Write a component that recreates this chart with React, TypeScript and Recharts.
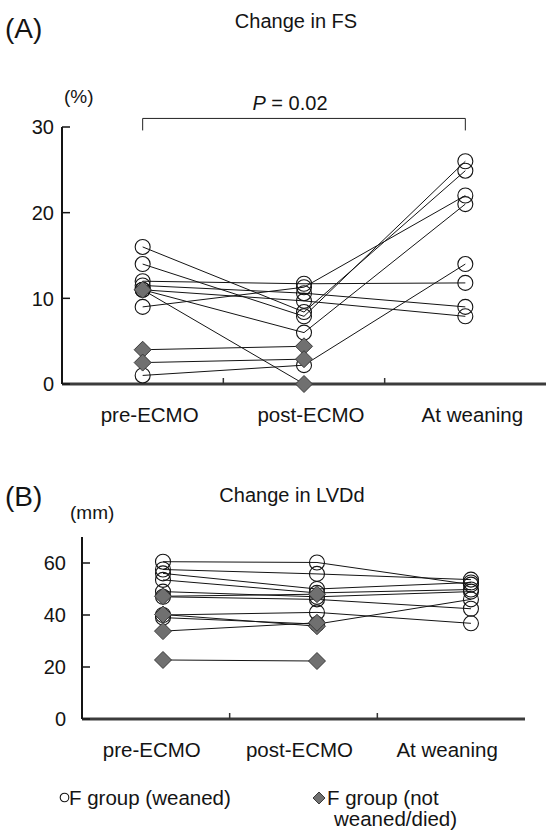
import React from "react";
import { LineChart, Line, XAxis, YAxis, ReferenceLine } from "recharts";

const CATEGORIES = ["pre-ECMO", "post-ECMO", "At weaning"];

// (A) fractional shortening, %
const FS_TICKS = [0, 10, 20, 30];
const FS_WEANED_PRE = [16, 14, 12, 11.5, 11, 11, 9, 1];
const FS_WEANED_POST = [8.4, 7.9, 11.7, 10.6, 9.7, 6.0, 11.3, 2.2];
const FS_WEANED_WEAN = [24.9, 26, 11.8, 9, 7.9, 21, 22, 14];
const FS_DIED_PRE = [11, 4, 2.5];
const FS_DIED_POST = [0, 4.4, 2.9];

// (B) LV end-diastolic dimension, mm
const LV_TICKS = [0, 20, 40, 60];
const LV_WEANED_PRE = [60.5, 57.5, 56, 53.5, 49, 47, 40, 39];
const LV_WEANED_POST = [60.2, 55.8, 50, 48.5, 47, 46, 41, 36.5];
const LV_WEANED_WEAN = [51.7, 53.6, 52.5, 49.8, 49, 42.4, 36.8, 46];
const LV_DIED_PRE = [47.2, 40.2, 33.8, 22.7];
const LV_DIED_POST = [48, 35.7, 37, 22.3];

const SLOTS = [0.5, 1.5, 2.5]; // centre of each category band
const CAT_TICKS = [0, 0.5, 1, 1.5, 2, 2.5, 3];

const FONT = '"Liberation Sans", Arial, sans-serif';
const INK = "#141414";

function buildRows(weaned: number[][], died: number[][]) {
  return SLOTS.map((x, i) => {
    const row: Record<string, number> = { x };
    if (weaned[i]) weaned[i].forEach((v, k) => (row[`w${k}`] = v));
    if (died[i]) died[i].forEach((v, k) => (row[`d${k}`] = v));
    return row;
  });
}

const fsRows = buildRows(
  [FS_WEANED_PRE, FS_WEANED_POST, FS_WEANED_WEAN],
  [FS_DIED_PRE, FS_DIED_POST]
);
const lvRows = buildRows(
  [LV_WEANED_PRE, LV_WEANED_POST, LV_WEANED_WEAN],
  [LV_DIED_PRE, LV_DIED_POST]
);

const CircleDot = (p: any) => {
  if (p.cx == null || p.cy == null || p.value == null) return <g key={`c-${p.index}`} />;
  return (
    <circle key={`c-${p.index}`} cx={p.cx} cy={p.cy} r={7.5} fill="none" stroke={INK} strokeWidth={1.1} />
  );
};

const DiamondDot = (p: any) => {
  if (p.cx == null || p.cy == null || p.value == null) return <g key={`d-${p.index}`} />;
  const s = 8.5;
  return (
    <path
      key={`d-${p.index}`}
      d={`M${p.cx},${p.cy - s}L${p.cx + s},${p.cy}L${p.cx},${p.cy + s}L${p.cx - s},${p.cy}Z`}
      fill="#707070"
      stroke="#3a3a3a"
      strokeWidth={1}
    />
  );
};

const makeXTick = (labelDx: number) => (props: any) => {
  const { x, y, payload } = props;
  const v = payload.value;
  if (Number.isInteger(v)) {
    if (v === 0 || v === 3) return <g />;
    return <line x1={x} y1={y} x2={x} y2={y - 6} stroke="#333" strokeWidth={1.5} />;
  }
  return (
    <text x={x + labelDx} y={y + 38} textAnchor="middle" fontSize={20.5} fill={INK} fontFamily={FONT}>
      {CATEGORIES[Math.floor(v)]}
    </text>
  );
};

const makeYTick = (gap: number) => (props: any) => {
  const { x, y, payload } = props;
  return (
    <g>
      <line x1={x} y1={y} x2={x + 8} y2={y} stroke={INK} strokeWidth={1.5} />
      <text x={x - gap} y={y} dy="0.36em" textAnchor="end" fontSize={20} fill={INK} fontFamily={FONT}>
        {payload.value}
      </text>
    </g>
  );
};

interface PanelProps {
  rows: Record<string, number>[];
  weanedCount: number;
  diedCount: number;
  yDomain: [number, number];
  yTicks: number[];
  height: number;
  margin: { top: number; right: number; bottom: number; left: number };
  yAxisWidth: number;
  pointDomain: [number, number];
  labelDx: number;
  yGap: number;
  children?: React.ReactNode;
}

const Panel = (p: PanelProps) => (
  <LineChart width={548} height={p.height} data={p.rows} margin={p.margin}>
    <XAxis
      xAxisId="cat"
      dataKey="x"
      type="number"
      domain={[0, 3]}
      ticks={CAT_TICKS}
      interval={0}
      height={40}
      tickLine={false}
      tickSize={0}
      tickMargin={0}
      axisLine={{ stroke: "#3c3c3c", strokeWidth: 3 }}
      tick={makeXTick(p.labelDx)}
    />
    <XAxis xAxisId="pts" dataKey="x" type="number" domain={p.pointDomain} allowDataOverflow hide />
    <YAxis
      type="number"
      domain={p.yDomain}
      ticks={p.yTicks}
      interval={0}
      width={p.yAxisWidth}
      tickLine={false}
      tickSize={0}
      tickMargin={0}
      axisLine={{ stroke: INK, strokeWidth: 2 }}
      tick={makeYTick(p.yGap)}
    />
    {p.children}
    {Array.from({ length: p.weanedCount }, (_, k) => (
      <Line
        key={`w${k}`}
        xAxisId="pts"
        type="linear"
        dataKey={`w${k}`}
        stroke={INK}
        strokeWidth={1}
        dot={CircleDot}
        activeDot={false}
        isAnimationActive={false}
      />
    ))}
    {Array.from({ length: p.diedCount }, (_, k) => (
      <Line
        key={`d${k}`}
        xAxisId="pts"
        type="linear"
        dataKey={`d${k}`}
        stroke={INK}
        strokeWidth={1}
        dot={DiamondDot}
        activeDot={false}
        isAnimationActive={false}
      />
    ))}
  </LineChart>
);

const Label = ({ text, left, cy, size, center, italic }: any) => (
  <div
    style={{
      position: "absolute",
      left: center ? left - 200 : left,
      width: center ? 400 : undefined,
      textAlign: center ? "center" : "left",
      top: cy - size / 2,
      fontSize: size,
      lineHeight: `${size}px`,
      whiteSpace: "nowrap",
      color: INK,
      fontStyle: italic ? "italic" : "normal",
    }}
  >
    {text}
  </div>
);

export default function App() {
  return (
    <div
      style={{
        position: "absolute",
        left: 0,
        top: 0,
        width: 548,
        height: 832,
        background: "#fff",
        fontFamily: FONT,
        overflow: "hidden",
      }}
    >
      <Label text="(A)" left={5} cy={29} size={28} />
      <Label text="Change in FS" left={296} cy={21} size={20} center />
      <Label text="(%)" left={64} cy={96} size={19} />
      <div
        style={{
          position: "absolute",
          left: 190,
          width: 200,
          textAlign: "center",
          top: 93,
          fontSize: 20,
          lineHeight: "20px",
          color: INK,
        }}
      >
        <i>P</i> = 0.02
      </div>

      <div style={{ position: "absolute", left: 0, top: 0 }}>
        <Panel
          rows={fsRows}
          weanedCount={FS_WEANED_PRE.length}
          diedCount={FS_DIED_PRE.length}
          yDomain={[0, 30]}
          yTicks={FS_TICKS}
          height={440}
          margin={{ top: 127, right: 2, bottom: 16, left: 0 }}
          yAxisWidth={62}
          pointDomain={[0, 3]}
          labelDx={7}
          yGap={8}
        >
          <ReferenceLine xAxisId="pts" segment={[{ x: 0.5, y: 31 }, { x: 2.5, y: 31 }]} stroke="#222" ifOverflow="visible" />
          <ReferenceLine xAxisId="pts" segment={[{ x: 0.5, y: 31 }, { x: 0.5, y: 29.6 }]} stroke="#222" ifOverflow="visible" />
          <ReferenceLine xAxisId="pts" segment={[{ x: 2.5, y: 31 }, { x: 2.5, y: 29.6 }]} stroke="#222" ifOverflow="visible" />
        </Panel>
      </div>

      <Label text="(B)" left={5} cy={497} size={28} />
      <Label text="Change in LVDd" left={292} cy={495} size={20} center />
      <Label text="(mm)" left={70} cy={512} size={19} />

      <div style={{ position: "absolute", left: 0, top: 440 }}>
        <Panel
          rows={lvRows}
          weanedCount={LV_WEANED_PRE.length}
          diedCount={LV_DIED_PRE.length}
          yDomain={[0, 70]}
          yTicks={LV_TICKS}
          height={330}
          margin={{ top: 97, right: 23, bottom: 11, left: 0 }}
          yAxisWidth={82}
          pointDomain={[-0.026, 2.851]}
          labelDx={-4}
          yGap={16}
        />
      </div>

      {/* legend */}
      <svg style={{ position: "absolute", left: 59, top: 792 }} width={11} height={11}>
        <circle cx={5.5} cy={5.5} r={4.3} fill="none" stroke={INK} strokeWidth={1.1} />
      </svg>
      <Label text="F group (weaned)" left={69} cy={798} size={20.5} />
      <svg style={{ position: "absolute", left: 312, top: 791 }} width={14} height={14}>
        <path d="M7,1L13,7L7,13L1,7Z" fill="#707070" stroke="#3a3a3a" strokeWidth={1} />
      </svg>
      <Label text="F group (not" left={327} cy={798} size={20.5} />
      <Label text="weaned/died)" left={334} cy={819} size={20.5} />
    </div>
  );
}
